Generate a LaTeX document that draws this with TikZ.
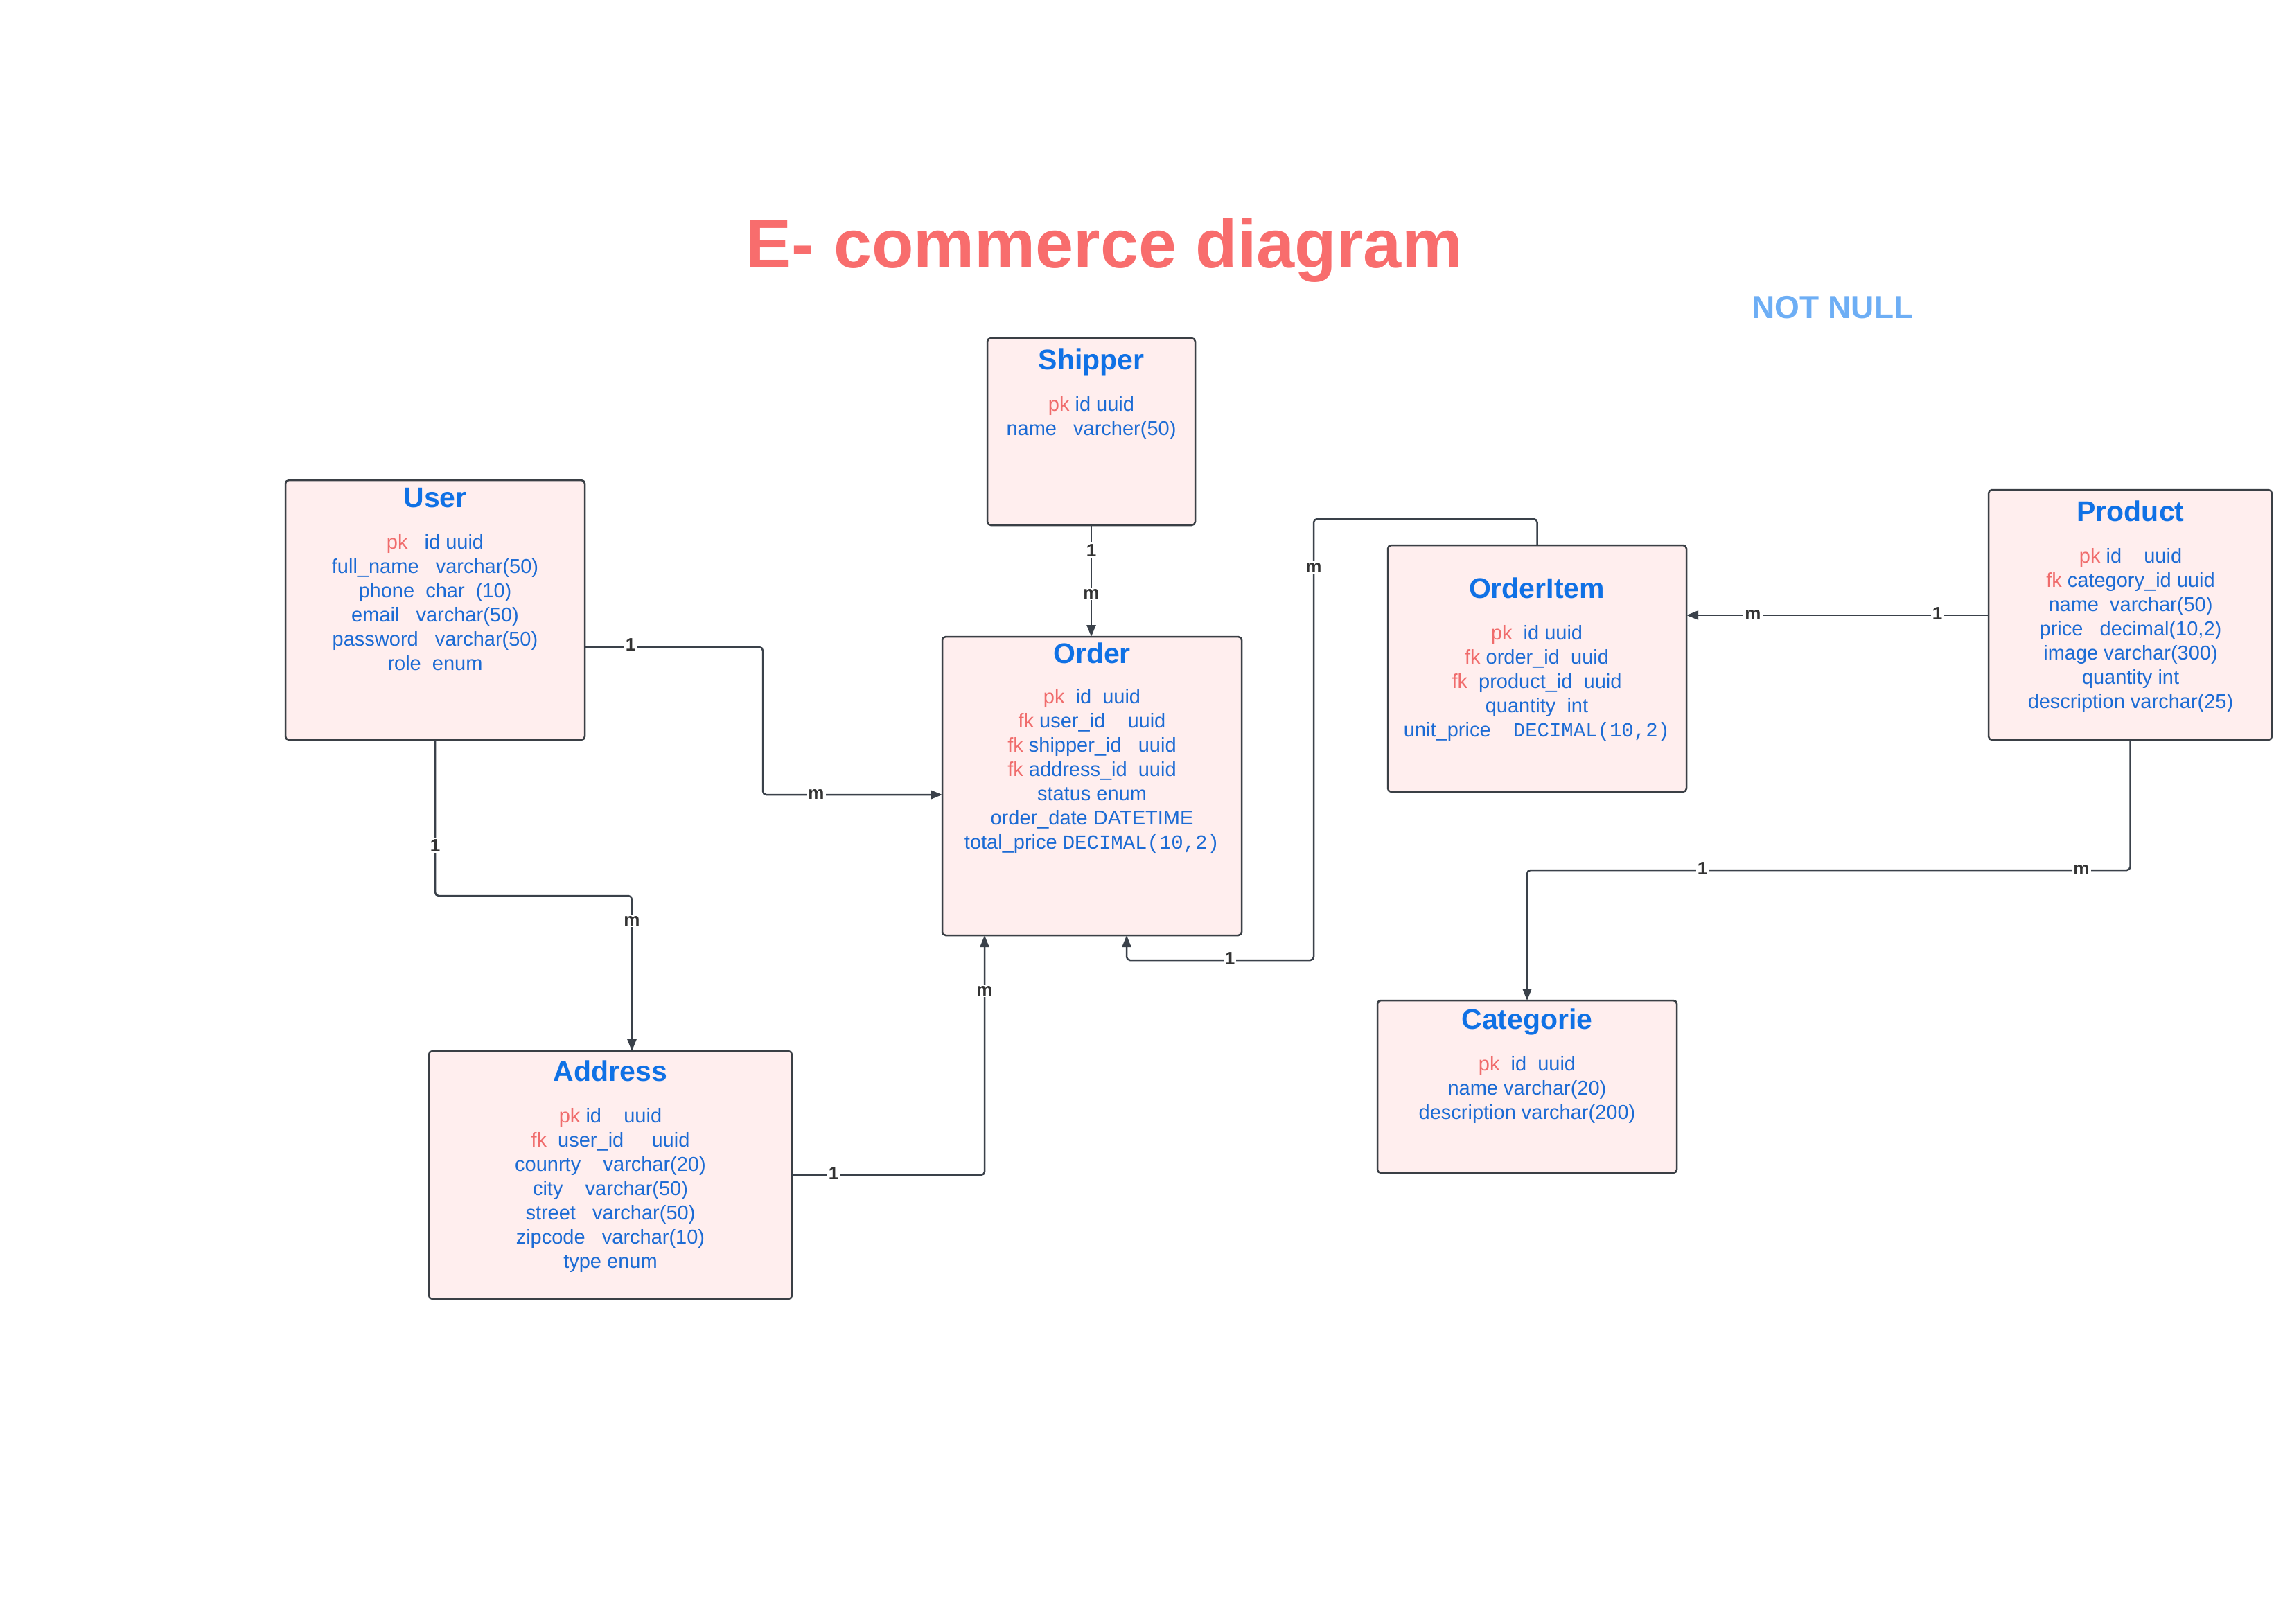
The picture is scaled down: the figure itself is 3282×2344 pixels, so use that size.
\documentclass[tikz,border=0pt]{standalone}
\usepackage{fontspec}
\setmainfont{Liberation Sans}
\setmonofont{Liberation Mono}
\usetikzlibrary{arrows.meta}
\definecolor{boxfill}{HTML}{FFEEEE}
\definecolor{boxline}{HTML}{3A3F45}
\definecolor{ttlblue}{HTML}{1071E5}
\definecolor{fldblue}{HTML}{1C6BD4}
\definecolor{keyred}{HTML}{F06C6C}
\definecolor{headred}{HTML}{F86D6D}
\definecolor{nnblue}{HTML}{6DAEF5}
\definecolor{connc}{HTML}{3A414A}
\definecolor{lblc}{HTML}{333333}
\newcommand\kk[1]{\textcolor{keyred}{#1}}
\newcommand\mono[1]{\texttt{#1}}
\newcommand\fld[4]{\node[efield] (#1) at (#2,#3) {#4};}
\newcommand\crd[4]{\node[card] (#1) at (#2,#3) {#4};}
\begin{document}
\begin{tikzpicture}[x=1pt,y=-1pt,
  entity/.style={draw=boxline, fill=boxfill, line width=2.5pt, rounded corners=5pt, anchor=north west, inner sep=0pt, outer sep=0pt},
  etitle/.style={anchor=base, text=ttlblue, font=\fontsize{41}{49}\selectfont\bfseries, inner sep=0pt},
  efield/.style={anchor=base, text=fldblue, font=\fontsize{29}{35}\selectfont, inner sep=0pt},
  conn/.style={draw=connc, line width=2.5pt, rounded corners=5pt, -{Triangle[length=17pt,width=13pt]}},
  card/.style={anchor=base, text=lblc, font=\fontsize{26}{30}\selectfont\bfseries, fill=white, inner sep=2pt},
]
\path[fill=white] (0,0) rectangle (3282,2344);
\useasboundingbox (0,0) rectangle (3282,2344);

\node[anchor=base, font=\fontsize{99}{110}\selectfont\bfseries, text=headred, inner sep=0pt] (title) at (1594,386) {E- commerce diagram};
\node[anchor=base, font=\fontsize{46}{52}\selectfont\bfseries, text=nnblue, inner sep=0pt] (notnull) at (2645,459) {NOT NULL};

% boxes
\node[entity, minimum width=432pt, minimum height=375pt] (user) at (412,693) {};
\node[entity, minimum width=300pt, minimum height=270pt] (shipper) at (1425,488) {};
\node[entity, minimum width=432pt, minimum height=431pt] (order) at (1360,919) {};
\node[entity, minimum width=431pt, minimum height=356pt] (orderitem) at (2003,787) {};
\node[entity, minimum width=409pt, minimum height=361pt] (product) at (2870,707) {};
\node[entity, minimum width=524pt, minimum height=358pt] (address) at (619,1517) {};
\node[entity, minimum width=432pt, minimum height=249pt] (categorie) at (1988,1444) {};

% User
\node[etitle] (userT) at (628,732) {User};
\fld{u1}{628}{792}{\kk{pk}\ \ \ id uuid}
\fld{u2}{628}{827}{full\_name\ \ \ varchar(50)}
\fld{u3}{628}{862}{phone\ \ char\ \ (10)}
\fld{u4}{628}{897}{email\ \ \ varchar(50)}
\fld{u5}{628}{932}{password\ \ \ varchar(50)}
\fld{u6}{628}{967}{role\ \ enum}

% Shipper
\node[etitle] (shipperT) at (1575,533) {Shipper};
\fld{s1}{1575}{593}{\kk{pk} id uuid}
\fld{s2}{1575}{628}{name\ \ \ varcher(50)}

% Order
\node[etitle] (orderT) at (1576,957) {Order};
\fld{o1}{1576}{1015}{\kk{pk}\ \ id\ \ uuid}
\fld{o2}{1576}{1050}{\kk{fk} user\_id\ \ \ \ uuid}
\fld{o3}{1576}{1085}{\kk{fk} shipper\_id\ \ \ uuid}
\fld{o4}{1576}{1120}{\kk{fk} address\_id\ \ uuid}
\fld{o5}{1576}{1155}{status enum}
\fld{o6}{1576}{1190}{order\_date DATETIME}
\fld{o7}{1576}{1225}{total\_price \mono{DECIMAL(10,2)}}

% OrderItem
\node[etitle] (orderitemT) at (2218,863) {OrderItem};
\fld{i1}{2218}{923}{\kk{pk}\ \ id uuid}
\fld{i2}{2218}{958}{\kk{fk} order\_id\ \ uuid}
\fld{i3}{2218}{993}{\kk{fk}\ \ product\_id\ \ uuid}
\fld{i4}{2218}{1028}{quantity\ \ int}
\fld{i5}{2218}{1063}{unit\_price\ \ \ \ \mono{DECIMAL(10,2)}}

% Product
\node[etitle] (productT) at (3075,752) {Product};
\fld{p1}{3075}{812}{\kk{pk} id\ \ \ \ uuid}
\fld{p2}{3075}{847}{\kk{fk} category\_id uuid}
\fld{p3}{3075}{882}{name\ \ varchar(50)}
\fld{p4}{3075}{917}{price\ \ \ decimal(10,2)}
\fld{p5}{3075}{952}{image varchar(300)}
\fld{p6}{3075}{987}{quantity int}
\fld{p7}{3075}{1022}{description varchar(25)}

% Address
\node[etitle] (addressT) at (881,1560) {Address};
\fld{a1}{881}{1620}{\kk{pk} id\ \ \ \ uuid}
\fld{a2}{881}{1655}{\kk{fk}\ \ user\_id\ \ \ \ \ uuid}
\fld{a3}{881}{1690}{counrty\ \ \ \ varchar(20)}
\fld{a4}{881}{1725}{city\ \ \ \ varchar(50)}
\fld{a5}{881}{1760}{street\ \ \ varchar(50)}
\fld{a6}{881}{1795}{zipcode\ \ \ varchar(10)}
\fld{a7}{881}{1830}{type enum}

% Categorie
\node[etitle] (categorieT) at (2204,1485) {Categorie};
\fld{c1}{2204}{1545}{\kk{pk}\ \ id\ \ uuid}
\fld{c2}{2204}{1580}{name varchar(20)}
\fld{c3}{2204}{1615}{description varchar(200)}

% connectors
\draw[conn] (user.east |- 0,934) -- (1101,934) -- (1101,1147) -- (order.west |- 0,1147);
\draw[conn] (user.south) -- (628,1293) -- (912,1293) -- (912,0 |- address.north);
\draw[conn] (shipper.south) -- (shipper.south |- order.north);
\draw[conn] (address.east |- 0,1696) -- (1421,1696) -- (1421,0 |- order.south);
\draw[conn] (orderitem.north) -- (orderitem.north |- 0,749) -- (1896,749) -- (1896,1386) -- (1626,1386) -- (1626,0 |- order.south);
\draw[conn] (product.west |- 0,888) -- (orderitem.east |- 0,888);
\draw[conn] (product.south) -- (product.south |- 0,1256) -- (categorie.north |- 0,1256) -- (categorie.north);

% cardinalities
\crd{k1a}{910}{939}{1}
\crd{k1b}{1178}{1153}{m}
\crd{k2a}{628}{1229}{1}
\crd{k2b}{912}{1336}{m}
\crd{k3a}{1575}{803}{1}
\crd{k3b}{1575}{864}{m}
\crd{k4a}{1203}{1702}{1}
\crd{k4b}{1421}{1437}{m}
\crd{k5a}{1896}{826}{m}
\crd{k5b}{1775}{1392}{1}
\crd{k6a}{2530}{894}{m}
\crd{k6b}{2796}{894}{1}
\crd{k7a}{2457}{1262}{1}
\crd{k7b}{3004}{1262}{m}
\end{tikzpicture}
\end{document}
